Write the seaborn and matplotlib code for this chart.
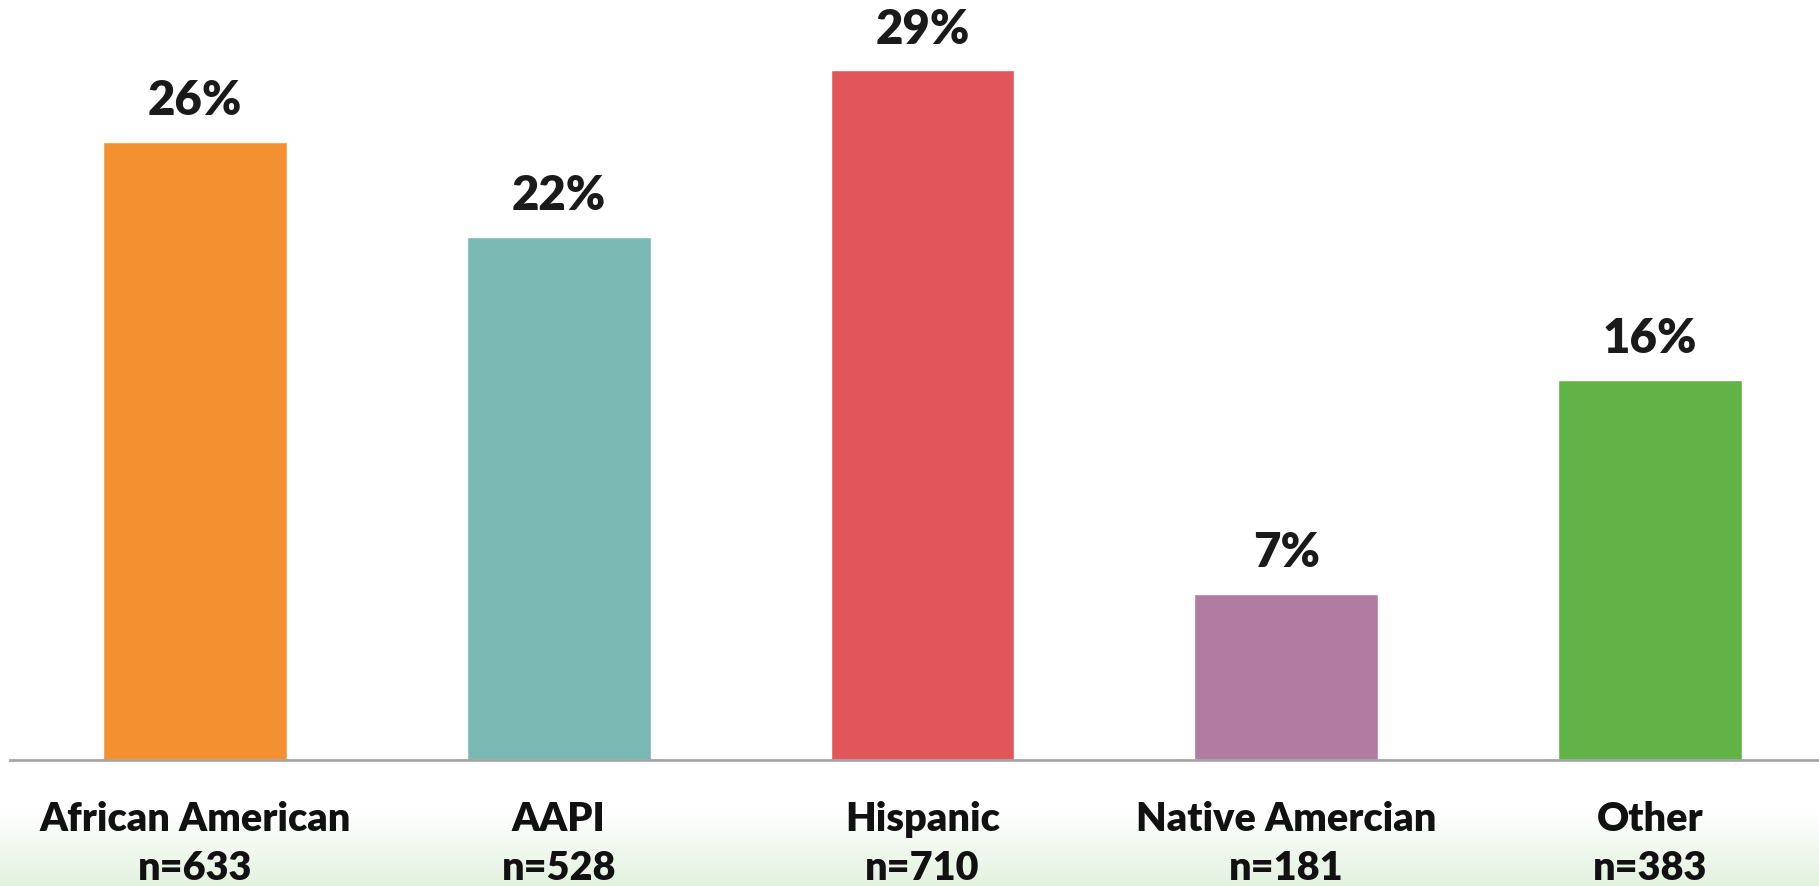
import numpy as np
import seaborn as sns
import matplotlib.pyplot as plt

categories = ['African American', 'AAPI', 'Hispanic', 'Native Amercian', 'Other']
sample_sizes = ['n=633', 'n=528', 'n=710', 'n=181', 'n=383']
percents = [26, 22, 29, 7, 16]
bar_colors = ['#F39130', '#7AB8B4', '#E2565B', '#B27BA2', '#61B347']

sns.set_style('white')
plt.rcParams['font.family'] = ['Lato', 'DejaVu Sans']

fig = plt.figure(figsize=(18.19, 8.87), dpi=100)

# soft green gradient at the bottom of the slide
bg = fig.add_axes([0, 0, 1, 1], zorder=0)
grad = np.ones((887, 1, 3))
top_c = np.array([1.0, 1.0, 1.0])
bot_c = np.array([0xE3, 0xF1, 0xDF]) / 255
start = 812
for i in range(start, 887):
    t = (i - start) / (887 - start)
    grad[i, 0] = top_c * (1 - t) + bot_c * t
bg.imshow(grad, aspect='auto', extent=[0, 1, 0, 1], origin='upper')
bg.axis('off')

ax = fig.add_axes([10 / 1819, 126 / 887, 1 - 10 / 1819, 761 / 887], zorder=1)
ax.patch.set_alpha(0)
sns.barplot(x=categories, y=percents, hue=categories, palette=bar_colors,
            legend=False, width=0.505, saturation=1, ax=ax)

ax.set_xlim(-0.508, 4.464)
ax.set_ylim(0, 32)
for s in ['top', 'right', 'left']:
    ax.spines[s].set_visible(False)
ax.spines['bottom'].set_color('#A6A6A6')
ax.spines['bottom'].set_linewidth(2)
ax.set_yticks([])
ax.set_xticks(range(len(categories)))
ax.set_xticklabels([f'{c}\n{n}' for c, n in zip(categories, sample_sizes)],
                   fontsize=28.5, fontweight='heavy', color='#111111', linespacing=1.4)
ax.tick_params(axis='x', length=0, pad=29)
ax.set_xlabel('')
ax.set_ylabel('')

for i, v in enumerate(percents):
    ax.annotate(f'{v}%', (i, v), xytext=(0, 14), textcoords='offset points',
                ha='center', va='bottom', fontsize=34, fontweight='heavy',
                color='#1A1A1A')

fig.savefig('out.png', dpi=100)
